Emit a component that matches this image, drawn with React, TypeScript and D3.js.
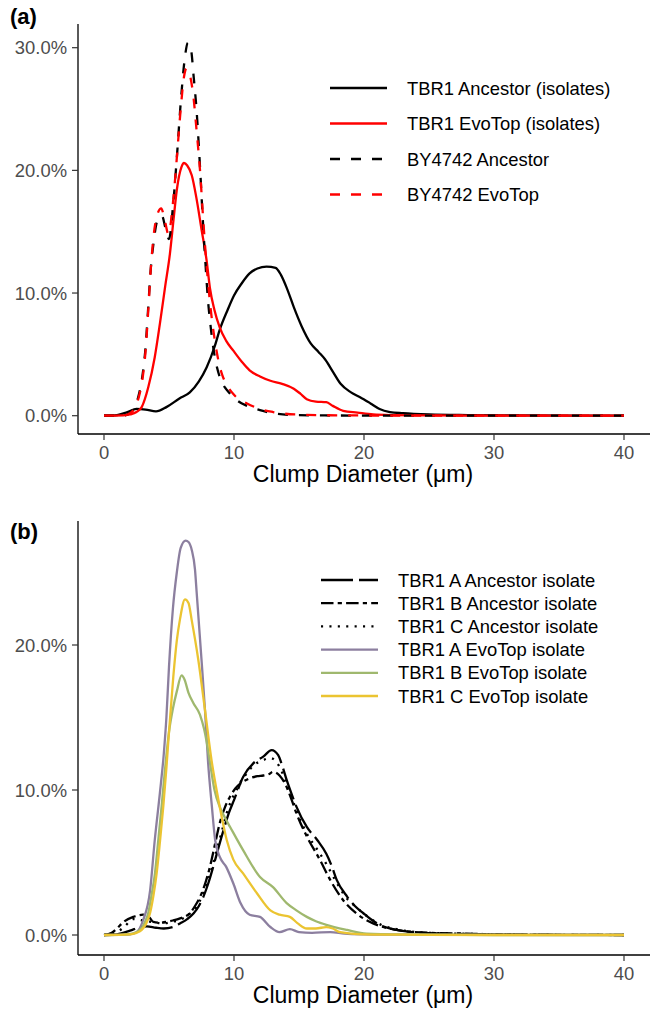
import React from 'react';
import * as d3 from 'd3';

// ---- panel (a) data: clump diameter (µm) vs density (%)
const ancIsoX = [0, 1, 1.8, 2.5, 3.2, 4.0, 4.8, 5.8, 6.6, 7.3, 7.9, 8.5, 8.9, 9.5, 10.0, 10.6, 11.2, 11.8, 12.5, 13.2, 13.6, 14.1, 14.6, 15.2, 15.9, 16.5, 17.0, 17.6, 18.2, 19.0, 19.7, 20.5, 21.2, 22.0, 23.0, 25, 28, 32, 40];
const ancIsoY = [0, 0.05, 0.3, 0.55, 0.5, 0.35, 0.7, 1.4, 1.9, 2.8, 3.95, 5.6, 7.0, 8.6, 9.8, 10.8, 11.6, 12.0, 12.15, 12.05, 11.5, 10.3, 8.85, 7.3, 5.9, 5.2, 4.6, 3.6, 2.6, 1.9, 1.5, 1.0, 0.55, 0.3, 0.2, 0.1, 0.05, 0.02, 0];

const evoIsoX = [0, 1.5, 2.0, 2.5, 2.9, 3.4, 3.9, 4.3, 4.7, 5.07, 5.35, 5.6, 5.97, 6.15, 6.4, 6.75, 7.1, 7.5, 7.9, 8.15, 8.5, 8.9, 9.4, 9.95, 10.6, 11.2, 12.0, 12.8, 13.7, 14.6, 15.1, 15.6, 16.3, 17.1, 17.6, 18.4, 19.5, 20.7, 22, 25, 30, 40];
const evoIsoY = [0, 0.03, 0.1, 0.3, 0.7, 2.3, 4.75, 7.5, 10.5, 13.2, 16.0, 18.4, 20.3, 20.6, 20.4, 19.6, 17.8, 15.2, 12.6, 10.4, 8.6, 7.2, 6.1, 5.3, 4.4, 3.7, 3.2, 2.85, 2.6, 2.2, 1.8, 1.35, 1.15, 1.1, 0.8, 0.4, 0.25, 0.1, 0.05, 0.02, 0, 0];

const byAncX = [0, 1.5, 2.0, 2.4, 2.7, 3.0, 3.2, 3.4, 3.6, 3.8, 4.1, 4.45, 4.75, 5.0, 5.3, 5.6, 5.9, 6.2, 6.45, 6.7, 6.9, 7.1, 7.4, 7.6, 7.8, 8.0, 8.2, 8.4, 8.7, 9.0, 9.3, 9.7, 10.3, 11.0, 12.0, 13.0, 14.7, 17, 20, 25, 40];
const byAncY = [0, 0.02, 0.25, 0.8, 1.8, 3.6, 5.6, 8.8, 12, 14, 15.9, 16.3, 15.2, 14.4, 17, 21, 25.5, 29, 30.4, 29.8, 27.6, 25.2, 20.0, 16.0, 12.5, 9.4, 7.3, 5.6, 3.9, 2.9, 2.3, 1.8, 1.2, 0.8, 0.45, 0.2, 0.05, 0.02, 0.01, 0, 0];

const byEvoX = [0, 1.5, 2.0, 2.4, 2.7, 3.0, 3.2, 3.4, 3.6, 3.8, 4.1, 4.4, 4.7, 4.95, 5.3, 5.6, 5.9, 6.15, 6.35, 6.6, 6.9, 7.1, 7.4, 7.6, 7.8, 8.0, 8.25, 8.5, 8.8, 9.1, 9.4, 10.0, 11.0, 12.0, 13.0, 14.7, 17, 20, 25, 40];
const byEvoY = [0, 0.02, 0.2, 0.7, 1.6, 3.3, 5.3, 8.5, 12, 14.5, 16.4, 16.9, 15.8, 14.8, 17.3, 21, 25, 27.6, 28.3, 27.8, 25.8, 23.5, 19.8, 16.5, 13.5, 10.9, 8.3, 6.3, 4.5, 3.3, 2.6, 1.7, 1.0, 0.55, 0.3, 0.1, 0.04, 0.02, 0, 0];

// ---- panel (b) data
const ancAX = [0, 1, 2, 2.8, 3.3, 4.0, 4.6, 5.3, 5.85, 6.4, 6.9, 7.3, 7.65, 8.0, 8.4, 8.8, 9.2, 9.6, 10.0, 10.7, 11.5, 12.25, 12.9, 13.4, 13.7, 14.05, 14.4, 14.8, 15.6, 16.4, 17.1, 17.5, 17.9, 18.7, 19.3, 19.95, 20.5, 21.2, 22.5, 23.8, 26, 30, 34, 40];
const ancAY = [0, 0.05, 0.3, 0.55, 0.6, 0.5, 0.45, 0.55, 0.8, 1.1, 1.5, 2.0, 2.65, 3.5, 4.7, 6.0, 7.25, 8.4, 9.3, 10.9, 11.85, 12.3, 12.75, 12.4, 11.7, 10.7, 9.8, 8.85, 7.45, 6.55, 5.6, 4.8, 3.8, 2.65, 2.0, 1.5, 1.1, 0.7, 0.35, 0.2, 0.1, 0.04, 0.02, 0];

const ancBX = [0, 0.6, 1.0, 1.5, 2.25, 3.0, 3.5, 3.8, 4.3, 4.8, 5.3, 5.85, 6.6, 7.0, 7.4, 7.8, 8.15, 8.5, 8.9, 9.3, 9.7, 10.1, 10.5, 11.2, 11.8, 12.25, 12.7, 13.0, 13.5, 14.05, 14.4, 14.8, 15.6, 16.6, 17.4, 18.4, 19.4, 20.7, 22.5, 25, 27.6, 30, 33, 40];
const ancBY = [0, 0.15, 0.45, 0.9, 1.25, 1.4, 1.2, 0.9, 0.85, 0.9, 1.0, 1.15, 1.5, 2.0, 2.65, 3.6, 4.7, 6.1, 7.7, 8.8, 9.55, 10.1, 10.45, 10.8, 10.95, 11.0, 11.1, 11.25, 11.0, 10.2, 9.4, 8.4, 6.8, 5.2, 3.8, 2.4, 1.5, 0.8, 0.35, 0.15, 0.1, 0.05, 0.02, 0];

const ancCX = [0, 1, 1.6, 2.25, 3.3, 4.0, 4.56, 5.2, 5.85, 6.5, 7.1, 7.5, 7.9, 8.3, 8.67, 9.05, 9.44, 9.8, 10.2, 10.6, 11.0, 11.5, 12.1, 12.8, 13.5, 14.05, 14.4, 14.8, 15.6, 16.4, 17.1, 17.9, 18.7, 19.3, 19.95, 21.2, 22.5, 24, 27, 30, 34, 40];
const ancCY = [0, 0.2, 0.6, 1.1, 0.95, 0.85, 0.8, 0.9, 1.05, 1.4, 1.95, 2.6, 3.55, 4.6, 5.85, 7.1, 8.4, 9.3, 10.0, 10.7, 11.15, 11.7, 12.0, 12.2, 11.6, 10.4, 9.6, 8.6, 7.0, 5.9, 4.9, 3.6, 2.5, 2.0, 1.5, 0.75, 0.4, 0.2, 0.1, 0.05, 0.02, 0];

const evoAX = [0, 1.5, 2.0, 2.5, 3.0, 3.55, 3.9, 4.3, 4.6, 4.8, 5.0, 5.3, 5.6, 5.9, 6.28, 6.5, 6.75, 7.0, 7.13, 7.5, 7.77, 8.0, 8.3, 8.55, 8.9, 9.4, 9.95, 10.5, 11.2, 12.0, 12.8, 13.5, 14.3, 15.0, 16.0, 17.4, 18.5, 20, 23, 28, 40];
const evoAY = [0, 0.02, 0.05, 0.2, 1.0, 3.1, 6.5, 9.8, 12.5, 15, 18.5, 22.5, 25, 26.7, 27.2, 27.1, 26.55, 25.2, 23.6, 19.0, 15.5, 12.0, 8.85, 6.55, 5.4, 4.7, 3.55, 2.2, 1.4, 1.25, 0.55, 0.2, 0.4, 0.2, 0.15, 0.2, 0.1, 0.05, 0.02, 0.01, 0];

const evoBX = [0, 1.5, 2.2, 2.77, 3.1, 3.4, 3.65, 3.92, 4.15, 4.43, 4.65, 5.0, 5.3, 5.6, 5.97, 6.2, 6.5, 6.87, 7.38, 7.7, 7.9, 8.15, 8.5, 8.9, 9.3, 9.7, 10.7, 12, 13, 14.05, 14.8, 15.6, 16.3, 17.1, 18.7, 20.2, 23, 30, 40];
const evoBY = [0, 0.03, 0.1, 0.35, 0.8, 1.5, 2.7, 4.25, 6.3, 8.85, 11.0, 14.0, 15.6, 16.8, 17.9, 17.6, 16.7, 16.0, 15.2, 14.2, 13.3, 11.9, 10.0, 8.85, 8.1, 7.45, 5.85, 4.0, 3.3, 2.2, 1.7, 1.25, 0.95, 0.7, 0.35, 0.1, 0.04, 0, 0];

const evoCX = [0, 2.0, 2.5, 2.9, 3.25, 3.54, 3.8, 4.05, 4.3, 4.56, 4.8, 5.0, 5.33, 5.6, 5.85, 6.23, 6.5, 6.75, 7.25, 7.77, 8.28, 8.6, 8.9, 9.44, 9.95, 10.7, 11.75, 12.8, 13.5, 14.3, 14.9, 15.6, 16.3, 17.1, 17.6, 18.15, 20, 23, 30, 40];
const evoCY = [0, 0.05, 0.15, 0.35, 0.8, 1.5, 2.7, 4.25, 6.4, 8.85, 11.5, 14, 17.8, 20.3, 21.8, 23.15, 22.9, 21.7, 19, 15.5, 12, 10.3, 8.85, 6.55, 5.2, 4.25, 2.9, 1.7, 1.4, 1.25, 0.8, 0.45, 0.45, 0.55, 0.45, 0.2, 0.05, 0.02, 0, 0];

const xTicks = [0, 10, 20, 30, 40];
const yTicksA = [0, 10, 20, 30];
const yTicksB = [0, 10, 20];

const seriesA = [
  { label: 'TBR1 Ancestor (isolates)', xs: ancIsoX, ys: ancIsoY, color: '#000000', dash: null },
  { label: 'TBR1 EvoTop (isolates)', xs: evoIsoX, ys: evoIsoY, color: '#FF0000', dash: null },
  { label: 'BY4742 Ancestor', xs: byAncX, ys: byAncY, color: '#000000', dash: '10 11' },
  { label: 'BY4742 EvoTop', xs: byEvoX, ys: byEvoY, color: '#FF0000', dash: '10 11' },
];

const seriesB = [
  { label: 'TBR1 A Ancestor isolate', xs: ancAX, ys: ancAY, color: '#000000', dash: '32 6' },
  { label: 'TBR1 B Ancestor isolate', xs: ancBX, ys: ancBY, color: '#000000', dash: '12.5 4.2 4.2 4.2' },
  { label: 'TBR1 C Ancestor isolate', xs: ancCX, ys: ancCY, color: '#000000', dash: '2.1 6.3' },
  { label: 'TBR1 A EvoTop isolate', xs: evoAX, ys: evoAY, color: '#8C7F9F', dash: null },
  { label: 'TBR1 B EvoTop isolate', xs: evoBX, ys: evoBY, color: '#9FB86E', dash: null },
  { label: 'TBR1 C EvoTop isolate', xs: evoCX, ys: evoCY, color: '#EBC431', dash: null },
];

const FONT = '"Liberation Sans", Arial, Helvetica, sans-serif';
const x = d3.scaleLinear().domain([-2, 42]).range([78, 650]);

function Panel({ tag, tagY, series, y, yTicks, top, bottom, labelY, legend }) {
  const line = d3.line<number>()
    .x(d => d[0])
    .y(d => d[1])
    .curve(d3.curveMonotoneX);
  return (
    <g>
      <text x={10} y={tagY} fontFamily={FONT} fontWeight="bold" fontSize={22}>{tag}</text>
      {series.map(s => (
        <path key={s.label}
          d={line(s.xs.map((v, i) => [x(v), y(s.ys[i])]))}
          fill="none" stroke={s.color} strokeWidth={2.3}
          strokeDasharray={s.dash || undefined} />
      ))}
      {/* axes */}
      <line x1={78} x2={78} y1={top} y2={bottom} stroke="#000" strokeWidth={1.3} />
      <line x1={78} x2={650} y1={bottom} y2={bottom} stroke="#000" strokeWidth={1.3} />
      {yTicks.map(t => (
        <g key={t}>
          <line x1={72} x2={78} y1={y(t)} y2={y(t)} stroke="#333" strokeWidth={1.2} />
          <text x={67} y={y(t)} dy="0.36em" textAnchor="end" fontFamily={FONT} fontSize={18.4} fill="#4D4D4D">
            {t.toFixed(1) + '%'}
          </text>
        </g>
      ))}
      {xTicks.map(t => (
        <g key={t}>
          <line x1={x(t)} x2={x(t)} y1={bottom} y2={bottom + 6} stroke="#333" strokeWidth={1.2} />
          <text x={x(t)} y={bottom + 25} textAnchor="middle" fontFamily={FONT} fontSize={18.4} fill="#4D4D4D">{t}</text>
        </g>
      ))}
      <text x={363} y={labelY} textAnchor="middle" fontFamily={FONT} fontSize={23} fill="#000">Clump Diameter (μm)</text>
      {series.map((s, i) => (
        <g key={'lg' + s.label} transform={`translate(0, ${legend.y0 + i * legend.step})`}>
          <line x1={legend.x0} x2={legend.x0 + 57} y1={0} y2={0} stroke={s.color} strokeWidth={2.3}
            strokeDasharray={s.dash || undefined} />
          <text x={legend.x0 + 77} y={0} dy="0.36em" fontFamily={FONT} fontSize={18.4} fill="#000">{s.label}</text>
        </g>
      ))}
    </g>
  );
}

export default function App() {
  const yA = d3.scaleLinear().domain([0, 30]).range([415.7, 47.7]);
  const yB = d3.scaleLinear().domain([0, 20]).range([935, 645]);
  return (
    <svg width={652} height={1010} style={{ position: 'absolute', left: 0, top: 0, background: '#fff' }}>
      <rect width={652} height={1010} fill="#fff" />
      <Panel tag="(a)" tagY={24} series={seriesA} y={yA} yTicks={yTicksA} top={24} bottom={434} labelY={482}
        legend={{ x0: 330, y0: 88, step: 35.5 }} />
      <Panel tag="(b)" tagY={539} series={seriesB} y={yB} yTicks={yTicksB} top={521} bottom={955} labelY={1003}
        legend={{ x0: 321, y0: 580, step: 23.2 }} />
    </svg>
  );
}
